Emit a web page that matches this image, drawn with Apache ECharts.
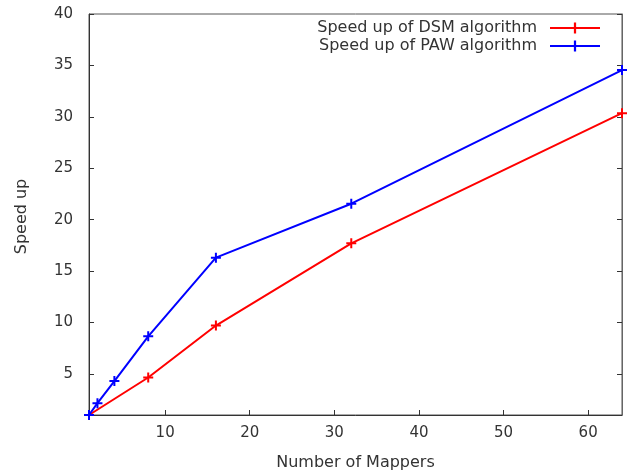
<!DOCTYPE html>
<html>
<head>
<meta charset="utf-8">
<script src="https://cdn.jsdelivr.net/npm/echarts@6/dist/echarts.min.js"></script>
<style>html,body{margin:0;padding:0;background:#fff;}#c{width:628px;height:473px;}</style>
</head>
<body>
<div id="c"></div>
<script>
const dsmX = [1, 8, 16, 32, 64];
const dsmY = [1, 4.65, 9.7, 17.7, 30.35];
const pawX = [1, 2, 4, 8, 16, 32, 64];
const pawY = [1, 2.15, 4.3, 8.65, 16.3, 21.55, 34.55];
const xTicks = [10, 20, 30, 40, 50, 60];
const yTicks = [5, 10, 15, 20, 25, 30, 35, 40];
const seriesNames = ['Speed up of DSM algorithm', 'Speed up of PAW algorithm'];

const plus = 'path://M3.6,0H5.4V3.6H9V5.4H5.4V9H3.6V5.4H0V3.6H3.6Z';
const font = 'DejaVu Sans';
const txt = '#333';

const chart = echarts.init(document.getElementById('c'), null, {renderer: 'canvas'});
chart.setOption({
  animation: false,
  backgroundColor: '#fff',
  textStyle: {fontFamily: font},
  grid: {left: 89, right: 6, top: 14, bottom: 58, show: true, borderColor: '#555', borderWidth: 1, containLabel: false, outerBoundsMode: 'none'},
  legend: {
    orient: 'vertical', right: 22, top: 15, align: 'right',
    itemWidth: 50, itemHeight: 14, itemGap: 2,
    textStyle: {fontFamily: font, fontSize: 16, color: txt, padding: [0, 8, 0, 0]},
    data: seriesNames
  },
  xAxis: {
    type: 'value', min: 1, max: 64,
    name: 'Number of Mappers', nameLocation: 'middle', nameGap: 40,
    nameTextStyle: {fontFamily: font, fontSize: 16, color: txt},
    axisLine: {show: true, lineStyle: {color: '#333', width: 1}},
    axisTick: {show: true, inside: true, length: 5, customValues: xTicks, lineStyle: {color: '#333'}},
    axisLabel: {customValues: xTicks, fontFamily: font, fontSize: 15, color: txt, margin: 11},
    splitLine: {show: false}
  },
  yAxis: [{
    type: 'value', min: 1, max: 40,
    name: 'Speed up', nameLocation: 'middle', nameGap: 59, nameRotate: 90,
    nameTextStyle: {fontFamily: font, fontSize: 16, color: txt, padding: [0, 4, 0, 0]},
    axisLine: {show: true, lineStyle: {color: '#333', width: 1}},
    axisTick: {show: true, inside: true, length: 5, customValues: yTicks, lineStyle: {color: '#333'}},
    axisLabel: {customValues: yTicks, fontFamily: font, fontSize: 15, color: txt, margin: 16},
    splitLine: {show: false}
  }, {
    type: 'value', min: 1, max: 40, position: 'right',
    axisLine: {show: true, lineStyle: {color: '#666', width: 1}},
    axisTick: {show: true, inside: true, length: 5, customValues: yTicks, lineStyle: {color: '#333'}},
    axisLabel: {show: false},
    splitLine: {show: false}
  }],
  series: [{
    name: seriesNames[0], type: 'line',
    data: dsmX.map((x, i) => [x, dsmY[i]]),
    symbol: plus, symbolSize: 10, showSymbol: true,
    lineStyle: {color: '#ff0000', width: 2},
    itemStyle: {color: '#ff0000'},
    z: 3
  }, {
    name: seriesNames[1], type: 'line',
    data: pawX.map((x, i) => [x, pawY[i]]),
    symbol: plus, symbolSize: 10, showSymbol: true,
    lineStyle: {color: '#0000ff', width: 2},
    itemStyle: {color: '#0000ff'},
    z: 4
  }]
});
</script>
</body>
</html>
